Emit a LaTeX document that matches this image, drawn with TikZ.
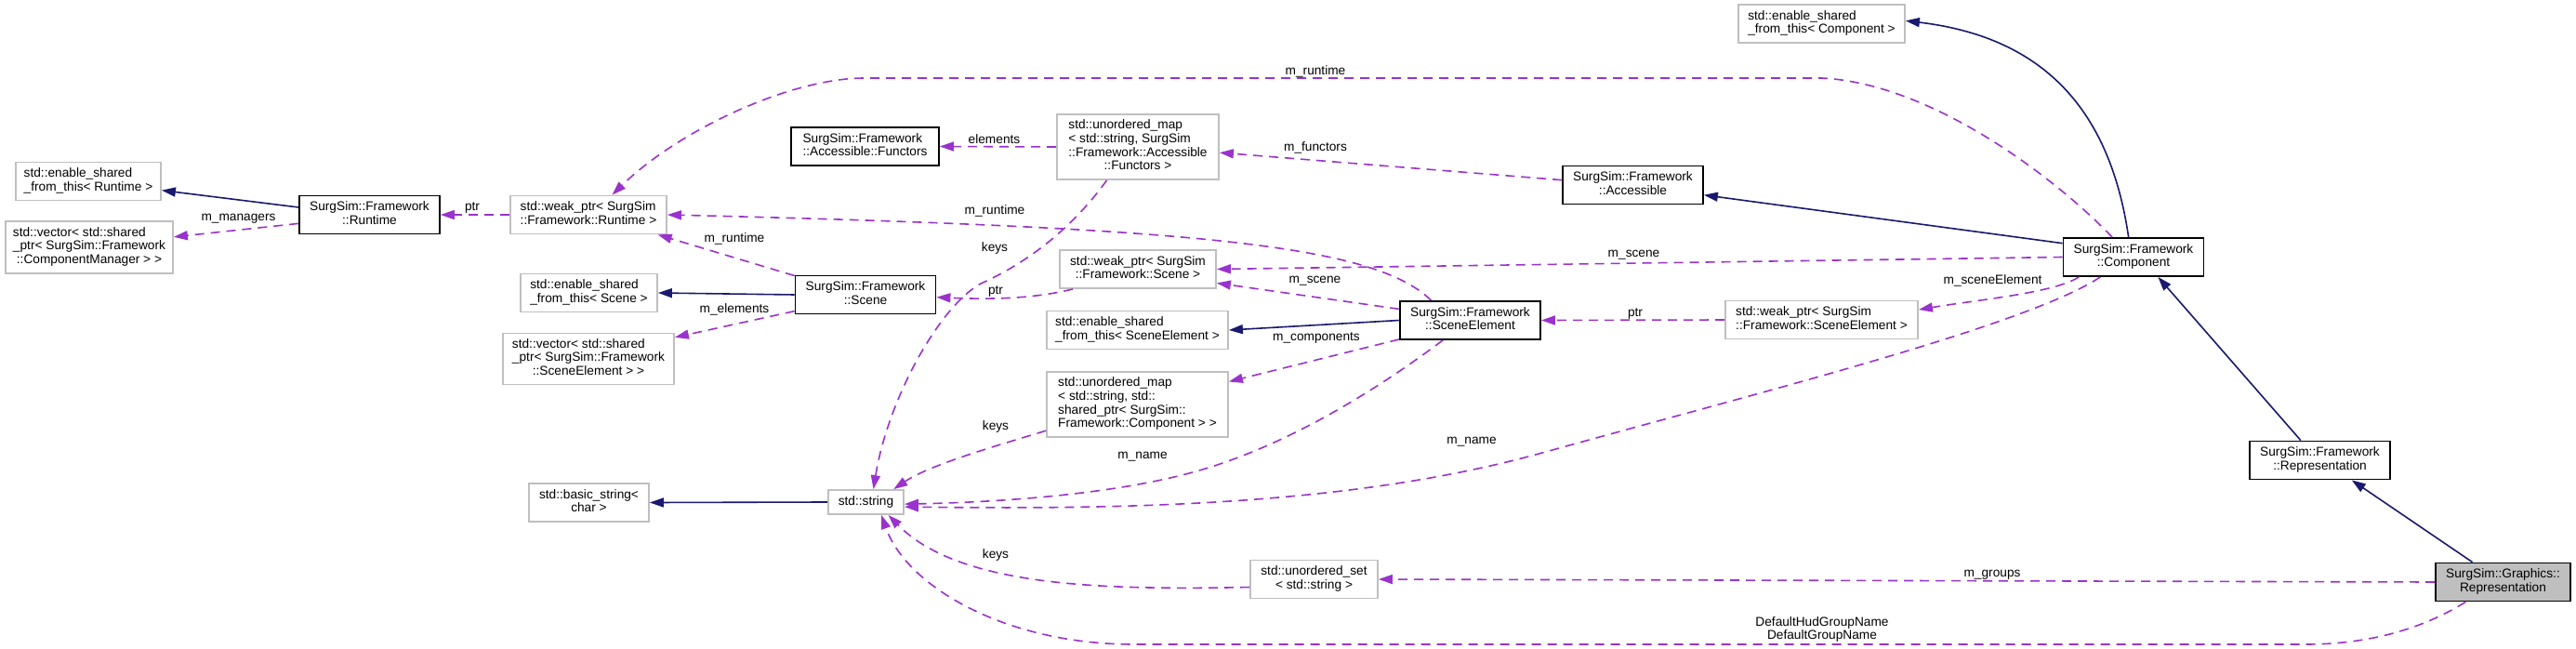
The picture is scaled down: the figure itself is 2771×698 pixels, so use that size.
\documentclass[tikz,border=0pt]{standalone}
\usepackage{fontspec}
\setmainfont{Liberation Sans}
\usetikzlibrary{arrows.meta}
\definecolor{edgeblue}{HTML}{191970}
\definecolor{edgepurple}{HTML}{9A32CD}
\definecolor{boxgray}{HTML}{BFBFBF}
\newcommand{\cls}[1]{\begin{tabular}{@{}l@{}}#1\end{tabular}}
\newcommand{\lastc}[1]{\multicolumn{1}{@{}c@{}}{#1}}
\tikzset{
  cbox/.style={draw=boxgray,line width=1.8pt,fill=white,inner sep=0pt,minimum height=41pt,font=\fontsize{13.7}{14.7}\selectfont},
  dbox/.style={cbox,draw=black},
  inherit/.style={color=edgeblue,line width=1.6pt,-{Triangle[length=15pt,width=10pt]}},
  uses/.style={color=edgepurple,line width=1.6pt,dash pattern=on 10pt off 7pt,-{Triangle[length=15pt,width=10pt]}},
  elabel/.style={inner sep=0pt,font=\fontsize{13.7}{14.7}\selectfont},
}
\begin{document}
\begin{tikzpicture}[x=1pt,y=-1pt]
\pgfmathsetmacro{\fw}{151}
\useasboundingbox (0,0) rectangle (2771,698);
\node[cbox,minimum width=179] (esComp) at (1959.5,25.5) {\cls{std::enable\_shared\\\_from\_this< Component >}};
\node[cbox,minimum width=156] (esRuntime) at (95,195) {\cls{std::enable\_shared\\\_from\_this< Runtime >}};
\node[cbox,minimum width=180,minimum height=56] (vecCM) at (96,266) {\cls{std::vector< std::shared\\\_ptr< SurgSim::Framework\\\lastc{::ComponentManager > >}}};
\node[dbox,minimum width=\fw] (runtime) at (397.5,231) {\cls{SurgSim::Framework\\\lastc{::Runtime}}};
\node[cbox,minimum width=168] (wpRuntime) at (633,231) {\cls{std::weak\_ptr< SurgSim\\\lastc{::Framework::Runtime >}}};
\node[dbox,minimum width=159] (functors) at (930.5,157.5) {\cls{SurgSim::Framework\\::Accessible::Functors}};
\node[cbox,minimum width=174,minimum height=70] (mapFunctors) at (1224,158) {\cls{std::unordered\_map\\< std::string, SurgSim\\::Framework::Accessible\\\lastc{::Functors >}}};
\node[dbox,minimum width=\fw] (accessible) at (1756.5,199) {\cls{SurgSim::Framework\\\lastc{::Accessible}}};
\node[cbox,minimum width=147] (esScene) at (633.5,315) {\cls{std::enable\_shared\\\_from\_this< Scene >}};
\node[cbox,minimum width=184,minimum height=55] (vecSE) at (633,386) {\cls{std::vector< std::shared\\\_ptr< SurgSim::Framework\\\lastc{::SceneElement > >}}};
\node[dbox,minimum width=\fw] (scene) at (931,317) {\cls{SurgSim::Framework\\\lastc{::Scene}}};
\node[cbox,minimum width=168] (wpScene) at (1224,289.5) {\cls{std::weak\_ptr< SurgSim\\\lastc{::Framework::Scene >}}};
\node[cbox,minimum width=195] (esElement) at (1223.5,355) {\cls{std::enable\_shared\\\_from\_this< SceneElement >}};
\node[dbox,minimum width=\fw] (element) at (1581.5,344.5) {\cls{SurgSim::Framework\\\lastc{::SceneElement}}};
\node[cbox,minimum width=195,minimum height=70] (mapComp) at (1223.5,435) {\cls{std::unordered\_map\\< std::string, std::\\shared\_ptr< SurgSim::\\\lastc{Framework::Component > >}}};
\node[cbox,minimum width=207] (wpElement) at (1959.5,344) {\cls{std::weak\_ptr< SurgSim\\\lastc{::Framework::SceneElement >}}};
\node[dbox,minimum width=\fw] (component) at (2295,276.5) {\cls{SurgSim::Framework\\\lastc{::Component}}};
\node[cbox,minimum width=129] (basicString) at (633.5,540.5) {\cls{std::basic\_string<\\\lastc{char >}}};
\node[cbox,minimum width=81,minimum height=26] (string) at (931.5,540) {std::string};
\node[cbox,minimum width=137] (setString) at (1413.5,623) {\cls{std::unordered\_set\\\lastc{< std::string >}}};
\node[dbox,minimum width=\fw] (fwRep) at (2495.5,495) {\cls{SurgSim::Framework\\\lastc{::Representation}}};
\node[dbox,fill=boxgray,minimum width=145] (gfxRep) at (2692.5,626) {\cls{SurgSim::Graphics::\\\lastc{Representation}}};
\draw[inherit] (runtime.174) -- (esRuntime.-7);
\draw[uses] (runtime.187) -- (vecCM.7);
\draw[uses] (wpRuntime.west) -- (runtime.east);
\draw[uses] (component.137) .. controls (2215,195) and (2080,90) .. (1960,84) -- (930,84) .. controls (850,84) and (730,140) .. (wpRuntime.40);
\draw[uses] (scene.165) -- (wpRuntime.-16);
\draw[uses] (element.153) .. controls (1480,265) and (1300,245) .. (wpRuntime.east);
\draw[uses] (accessible.176) -- (mapFunctors.-4);
\draw[uses] (mapFunctors.west) -- (functors.east);
\draw[uses] (mapFunctors.227) .. controls (1150,250) and (1100,285) .. (1055,305) .. controls (1010,330) and (955,430) .. (string.60);
\draw[uses] (wpScene.197) .. controls (1110,322) and (1060,322) .. (scene.-2);
\draw[inherit] (scene.west) -- (esScene.east);
\draw[uses] (scene.193) -- (vecSE.14);
\draw[uses] (element.171) -- (wpScene.-10);
\draw[uses] (component.west) -- (wpScene.east);
\draw[inherit] (element.west) -- (esElement.east);
\draw[uses] (wpElement.west) -- (element.east);
\draw[uses] (component.200) .. controls (2210,315) and (2130,322) .. (wpElement.6);
\draw[uses] (element.195) -- (mapComp.14);
\draw[uses] (mapComp.196) .. controls (1070,480) and (1000,500) .. (string.25);
\draw[uses] (element.216) .. controls (1480,420) and (1390,475) .. (1300,503) .. controls (1210,531) and (1080,540) .. (string.-3);
\draw[uses] (component.211) .. controls (2180,350) and (1900,420) .. (1659,487) .. controls (1450,545) and (1200,548) .. (string.-7);
\draw[uses] (setString.187) .. controls (1180,635) and (1030,630) .. (string.-30);
\draw[uses] (gfxRep.west) -- (setString.east);
\draw[uses] (gfxRep.208) .. controls (2600,680) and (2540,693) .. (2480,693) -- (1220,693) .. controls (1080,693) and (975,630) .. (string.-40);
\draw[inherit] (component.169) -- (accessible.-8);
\draw[inherit] (component.104) .. controls (2270,120) and (2200,40) .. (esComp.2);
\draw[inherit] (fwRep.134) -- (component.-39);
\draw[inherit] (gfxRep.147) -- (fwRep.-32);
\draw[inherit] (string.west) -- (basicString.east);
\node[elabel] (lManagers) at (256.5,235) {m\_managers};
\node[elabel] (lPtrRuntime) at (508,223) {ptr};
\node[elabel] (lRuntimeTop) at (1415,77) {m\_runtime};
\node[elabel] (lRuntimeScene) at (790,257) {m\_runtime};
\node[elabel] (lRuntimeElem) at (1070,227) {m\_runtime};
\node[elabel] (lFunctors) at (1415,159) {m\_functors};
\node[elabel] (lElements) at (1069.5,150) {elements};
\node[elabel] (lKeysA) at (1070,267) {keys};
\node[elabel] (lPtrScene) at (1071,313) {ptr};
\node[elabel] (lSceneElems) at (790,333) {m\_elements};
\node[elabel] (lSceneA) at (1414.5,302) {m\_scene};
\node[elabel] (lSceneB) at (1757.5,274) {m\_scene};
\node[elabel] (lPtrElem) at (1759,337) {ptr};
\node[elabel] (lSceneElement) at (2143.5,302) {m\_sceneElement};
\node[elabel] (lComponents) at (1416,363) {m\_components};
\node[elabel] (lKeysB) at (1071,459) {keys};
\node[elabel] (lNameA) at (1229,491) {m\_name};
\node[elabel] (lNameB) at (1583,475) {m\_name};
\node[elabel] (lKeysC) at (1071,597) {keys};
\node[elabel] (lGroups) at (2143,618) {m\_groups};
\node[elabel,align=center] (lDefault) at (1960,677) {DefaultHudGroupName\\DefaultGroupName};
\end{tikzpicture}
\end{document}
